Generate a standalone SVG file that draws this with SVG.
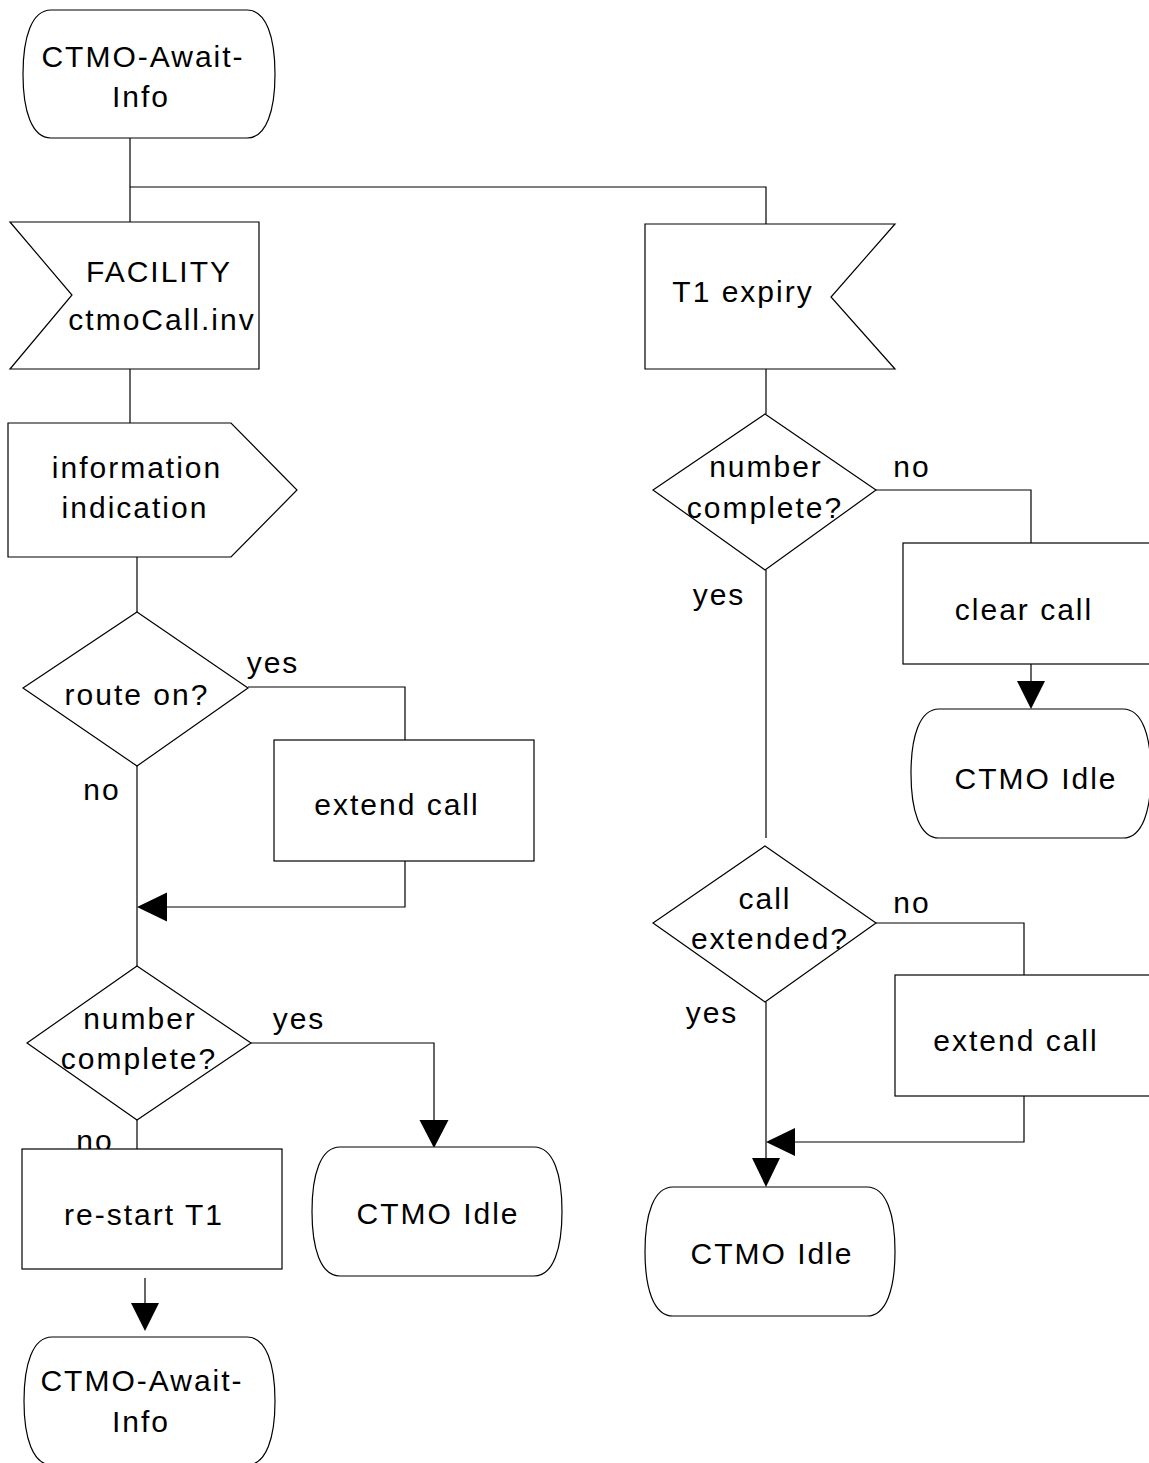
<svg xmlns="http://www.w3.org/2000/svg" width="1149" height="1463" viewBox="0 0 1149 1463">
<style>
.s{fill:#fff;stroke:#000;stroke-width:1.2}
.c{fill:none;stroke:#000;stroke-width:1.2}
.a{fill:#000;stroke:none}
text{font-family:"Liberation Sans",Arial,sans-serif;font-size:30px;letter-spacing:2px;fill:#000;text-anchor:middle}
</style>
<rect width="1149" height="1463" fill="#fff"/>
<g id="connectors">
<path class="c" d="M130,138 V222 M130,187 H766 V224"/>
<path class="c" d="M130,369 V423"/>
<path class="c" d="M137,557 V612"/>
<path class="c" d="M248,687 H405 V740"/>
<path class="c" d="M405,861 V907 H167"/>
<polygon class="a" points="137,907 167,892.5 167,921.5"/>
<path class="c" d="M137,766 V967"/>
<path class="c" d="M250,1043 H434 V1121"/>
<polygon class="a" points="434,1148 419.5,1120 448.5,1120"/>
<path class="c" d="M137,1120 V1149"/>
<path class="c" d="M145,1278 V1303"/>
<polygon class="a" points="145,1331 131,1303 159,1303"/>
<path class="c" d="M766,369 V414"/>
<path class="c" d="M876,490 H1031 V543"/>
<path class="c" d="M1031,664 V681"/>
<polygon class="a" points="1031,709 1017,681 1045,681"/>
<path class="c" d="M766,570 V838"/>
<path class="c" d="M876,923 H1024 V975"/>
<path class="c" d="M1024,1096 V1142 H795"/>
<polygon class="a" points="766,1142 795,1128 795,1156"/>
<path class="c" d="M766,1002 V1158"/>
<polygon class="a" points="766,1187 752,1158 780,1158"/>
</g>
<g id="labels">
<text x="273" y="673">yes</text>
<text x="102" y="800">no</text>
<text x="299" y="1029">yes</text>
<text x="95" y="1151">no</text>
<text x="912" y="477">no</text>
<text x="719" y="605">yes</text>
<text x="912" y="913">no</text>
<text x="712" y="1023">yes</text>
</g>
<g id="state_await_top">
<path class="s" d="M51,10 H247 C266.6,10 275,38 275,74 C275,110 266.6,138 247,138 H51 C31.4,138 23,110 23,74 C23,38 31.4,10 51,10 Z"/>
<text x="143" y="67">CTMO-Await-</text>
<text x="141" y="107">Info</text>
</g>
<g id="input_facility">
<polygon class="s" points="10,222 259,222 259,369 10,369 72,295"/>
<text x="159" y="282">FACILITY</text>
<text x="162" y="330">ctmoCall.inv</text>
</g>
<g id="input_t1">
<polygon class="s" points="645,224 895,224 831,297 895,369 645,369"/>
<text x="743" y="302">T1 expiry</text>
</g>
<g id="output_info">
<polygon class="s" points="8,423 231,423 297,490 231,557 8,557"/>
<text x="137" y="478">information</text>
<text x="135" y="518">indication</text>
</g>
<g id="decision_route">
<polygon class="s" points="137,612 248,688 137,766 23,688"/>
<text x="137" y="705">route on?</text>
</g>
<g id="task_extend_left">
<rect class="s" x="274" y="740" width="260" height="121"/>
<text x="397" y="815">extend call</text>
</g>
<g id="decision_number_left">
<polygon class="s" points="137,966 251,1043 137,1120 27,1043"/>
<text x="140" y="1029">number</text>
<text x="139" y="1069">complete?</text>
</g>
<g id="task_restart">
<rect class="s" x="22" y="1149" width="260" height="120"/>
<text x="144" y="1225">re-start T1</text>
</g>
<g id="state_idle_left">
<path class="s" d="M340,1147 H534 C553.6,1147 562,1175 562,1211.5 C562,1248 553.6,1276 534,1276 H340 C320.4,1276 312,1248 312,1211.5 C312,1175 320.4,1147 340,1147 Z"/>
<text x="438" y="1224">CTMO Idle</text>
</g>
<g id="state_await_bottom">
<path class="s" d="M52,1337 H247 C266.6,1337 275,1365 275,1401 C275,1437 266.6,1465 247,1465 H52 C32.4,1465 24,1437 24,1401 C24,1365 32.4,1337 52,1337 Z"/>
<text x="142" y="1391">CTMO-Await-</text>
<text x="141" y="1432">Info</text>
</g>
<g id="decision_number_right">
<polygon class="s" points="765,414 876,490 765,570 653,490"/>
<text x="766" y="477">number</text>
<text x="765" y="518">complete?</text>
</g>
<g id="task_clear">
<rect class="s" x="903" y="543" width="260" height="121"/>
<text x="1024" y="620">clear call</text>
</g>
<g id="state_idle_right_top">
<path class="s" d="M939,709 H1123 C1142.6,709 1151,737 1151,773.5 C1151,810 1142.6,838 1123,838 H939 C919.4,838 911,810 911,773.5 C911,737 919.4,709 939,709 Z"/>
<text x="1036" y="789">CTMO Idle</text>
</g>
<g id="decision_extended">
<polygon class="s" points="765,846 876,923 765,1002 653,923"/>
<text x="765" y="909">call</text>
<text x="770" y="949">extended?</text>
</g>
<g id="task_extend_right">
<rect class="s" x="895" y="975" width="260" height="121"/>
<text x="1016" y="1051">extend call</text>
</g>
<g id="state_idle_right_bottom">
<path class="s" d="M673,1187 H867 C886.6,1187 895,1215 895,1251.5 C895,1288 886.6,1316 867,1316 H673 C653.4,1316 645,1288 645,1251.5 C645,1215 653.4,1187 673,1187 Z"/>
<text x="772" y="1264">CTMO Idle</text>
</g>
</svg>
